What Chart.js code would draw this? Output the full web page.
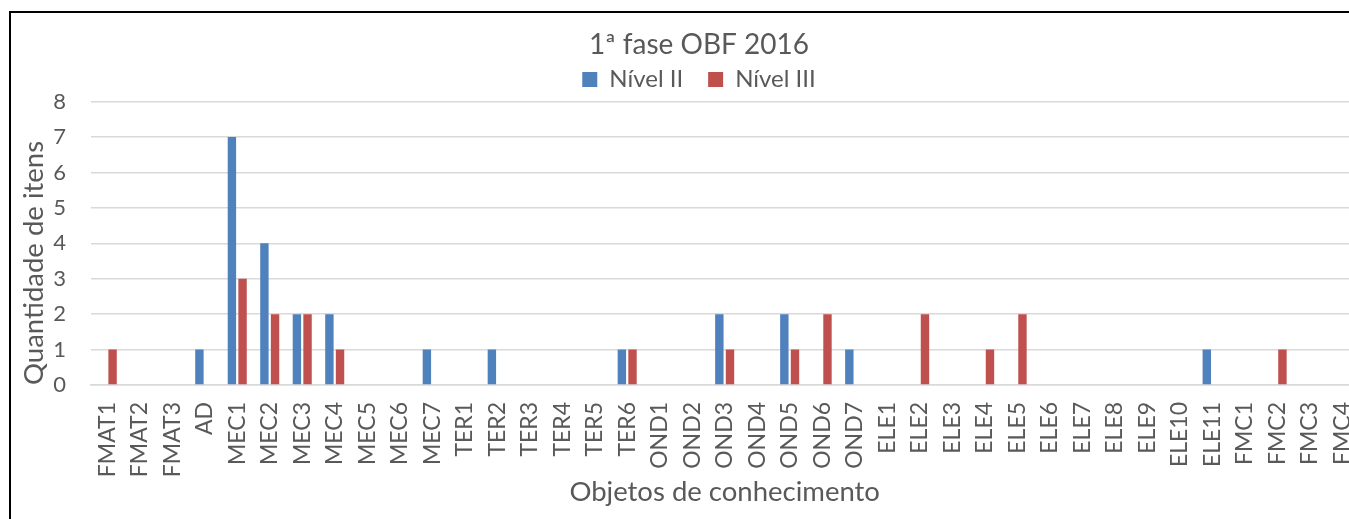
<!DOCTYPE html>
<html>
<head>
<meta charset="utf-8">
<script src="https://cdn.jsdelivr.net/npm/chart.js@4.4.1/dist/chart.umd.min.js"></script>
<style>
  html,body{margin:0;padding:0;background:#fff;width:1349px;height:519px;overflow:hidden}
  #box{position:absolute;left:9px;top:11px;width:1376px;height:520px;
       border-left:2px solid #000;border-top:2px solid #000;background:#fff}
  #chart{display:block}
</style>
</head>
<body>
<div id="box"><canvas id="chart" width="1376" height="510"></canvas></div>
<script>
// objetos de conhecimento (eixo x)
const categorias = [
  'FMAT1','FMAT2','FMAT3','AD',
  'MEC1','MEC2','MEC3','MEC4','MEC5','MEC6','MEC7',
  'TER1','TER2','TER3','TER4','TER5','TER6',
  'OND1','OND2','OND3','OND4','OND5','OND6','OND7',
  'ELE1','ELE2','ELE3','ELE4','ELE5','ELE6','ELE7','ELE8','ELE9','ELE10','ELE11',
  'FMC1','FMC2','FMC3','FMC4'
];

// quantidade de itens por nível
const nivelII = [
  0,0,0,1,
  7,4,2,2,0,0,1,
  0,1,0,0,0,1,
  0,0,2,0,2,0,1,
  0,0,0,0,0,0,0,0,0,0,1,
  0,0,0,0
];
const nivelIII = [
  1,0,0,0,
  3,2,2,1,0,0,0,
  0,0,0,0,0,1,
  0,0,1,0,1,2,0,
  0,2,0,1,2,0,0,0,0,0,0,
  0,1,0,0
];

const yTicks = [0,1,2,3,4,5,6,7,8];

const AZUL = '#4f81bd';
const VERMELHO = '#c0504d';
const TEXTO = '#595959';
const GRADE = '#d9d9d9';

function drawChart(){
  const ctx = document.getElementById('chart');
  Chart.defaults.font.family = 'Lato';
  Chart.defaults.color = TEXTO;

  new Chart(ctx, {
    type:'bar',
    data:{
      labels:categorias,
      datasets:[
        {label:'Nível II', data:nivelII, backgroundColor:AZUL,
         categoryPercentage:0.655, barPercentage:0.79},
        {label:'Nível III', data:nivelIII, backgroundColor:VERMELHO,
         categoryPercentage:0.655, barPercentage:0.79}
      ]
    },
    options:{
      responsive:false,
      animation:false,
      layout:{padding:0},
      plugins:{
        title:{
          display:true, text:'1ª fase OBF 2016', color:TEXTO,
          font:{size:28, weight:'normal'},
          padding:{top:15, bottom:-19}
        },
        legend:{
          display:true, position:'top',
          labels:{boxWidth:15, boxHeight:15, padding:25, color:TEXTO,
                  font:{size:24}}
        },
        tooltip:{enabled:false}
      },
      scales:{
        x:{
          grid:{display:false, drawTicks:false},
          border:{display:true, color:GRADE, width:1.5},
          ticks:{autoSkip:false, minRotation:90, maxRotation:90, padding:17,
                 color:TEXTO, font:{size:23}},
          title:{display:true, text:'Objetos de conhecimento', color:TEXTO,
                 font:{size:27.5}, padding:{top:0,bottom:14}},
          afterFit:(s)=>{ s.height = 138; }
        },
        y:{
          min:0, max:8,
          afterBuildTicks:(s)=>{ s.ticks = yTicks.map(v=>({value:v})); },
          grid:{color:GRADE, lineWidth:1.5, drawTicks:false},
          border:{display:false},
          ticks:{padding:25, color:TEXTO, font:{size:22}},
          title:{display:true, text:'Quantidade de itens', color:TEXTO,
                 align:'start', font:{size:27.5}, padding:{top:7,bottom:0}},
          afterFit:(s)=>{ s.width = 80; }
        },
        // margem direita da área do gráfico
        margem:{
          type:'linear', position:'right', display:true,
          grid:{display:false, drawTicks:false},
          border:{display:false},
          ticks:{display:false},
          afterFit:(s)=>{ s.width = 23; }
        }
      }
    }
  });
}

document.fonts.load('24px Lato').then(drawChart, drawChart);
</script>
</body>
</html>
